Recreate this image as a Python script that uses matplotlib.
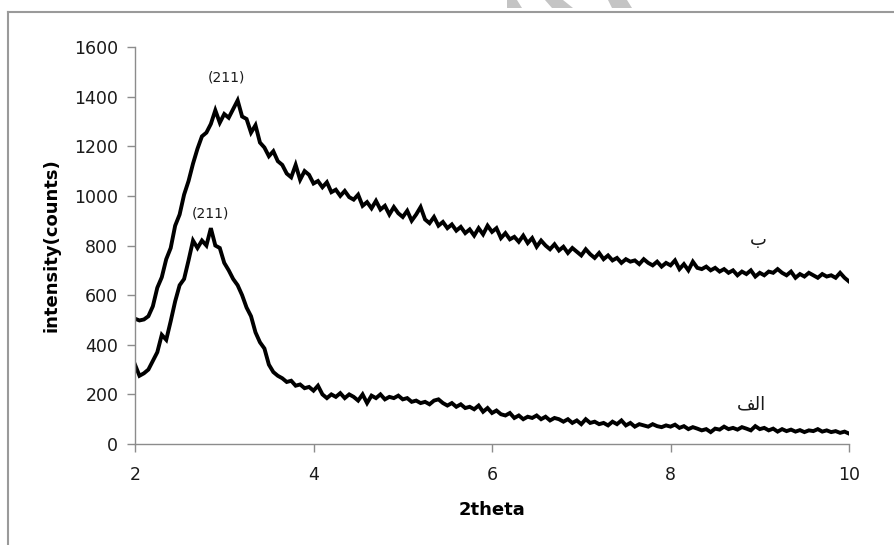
import numpy as np
import matplotlib
matplotlib.use("Agg")
import matplotlib.pyplot as plt
from matplotlib.patches import Polygon

# intensity readings, sampled every 0.05 deg from 2 to 10 (2theta)
curve_b = [505, 498, 502, 515, 555, 630, 672, 745, 790, 880,
           925, 1005, 1060, 1130, 1190, 1240, 1255, 1290, 1345, 1295,
           1330, 1315, 1350, 1385, 1320, 1310, 1255, 1285, 1215, 1195,
           1160, 1180, 1140, 1125, 1090, 1075, 1125, 1065, 1100, 1085,
           1050, 1060, 1035, 1055, 1015, 1025, 1000, 1020, 995, 985,
           1005, 960, 975, 950, 980, 945, 960, 925, 955, 930,
           915, 940, 900, 925, 955, 905, 890, 915, 880, 895,
           870, 885, 860, 875, 850, 865, 840, 870, 845, 880,
           855, 870, 830, 850, 825, 835, 815, 840, 810, 830,
           795, 820, 800, 785, 805, 780, 795, 770, 790, 775,
           760, 785, 765, 750, 770, 745, 760, 740, 750, 730,
           745, 735, 740, 725, 745, 730, 720, 735, 715, 730,
           720, 740, 705, 725, 700, 735, 710, 705, 715, 700,
           710, 695, 705, 690, 700, 680, 695, 685, 700, 675,
           690, 680, 695, 690, 705, 690, 680, 695, 670, 685,
           675, 690, 680, 670, 685, 675, 680, 670, 690, 670,
           655]

curve_a = [320, 275, 285, 300, 335, 370, 440, 420, 495, 575,
           640, 665, 740, 820, 790, 820, 800, 870, 800, 790,
           730, 700, 665, 640, 600, 550, 515, 450, 410, 385,
           320, 290, 275, 265, 250, 255, 235, 240, 225, 230,
           215, 235, 200, 185, 200, 190, 205, 185, 200, 190,
           175, 200, 165, 195, 185, 200, 180, 190, 185, 195,
           180, 185, 170, 175, 165, 170, 160, 175, 180, 165,
           155, 165, 150, 160, 145, 150, 140, 155, 130, 145,
           125, 135, 120, 115, 125, 105, 115, 100, 110, 105,
           115, 100, 110, 95, 105, 100, 90, 100, 85, 95,
           80, 100, 85, 90, 80, 85, 75, 90, 80, 95,
           75, 85, 70, 80, 75, 70, 80, 72, 68, 75,
           70, 78, 65, 72, 60, 68, 62, 55, 60, 48,
           62, 58, 70, 60, 65, 58, 68, 62, 55, 72,
           60, 65, 55, 62, 50, 60, 52, 58, 50, 56,
           48, 55, 52, 60, 50, 55, 48, 52, 45, 50,
           42]

x_start, x_end = 2, 10
y_ticks = [0, 200, 400, 600, 800, 1000, 1200, 1400, 1600]
x_ticks = [2, 4, 6, 8, 10]

peak_label = "(211)"
label_b = "\u0628"
label_a = "\uFED2\uFEDF\uFE8D"  # "الف" in shaped (visual order) form

plt.rcParams["font.family"] = ["DejaVu Sans"]

fig = plt.figure(figsize=(8.94, 5.45), dpi=100)
ax = fig.add_axes([0.151, 0.1853, 0.7987, 0.7284])

xb = np.linspace(x_start, x_end, len(curve_b))
xa = np.linspace(x_start, x_end, len(curve_a))
ax.plot(xb, curve_b, color="black", lw=2.8, solid_joinstyle="miter")
ax.plot(xa, curve_a, color="black", lw=2.8, solid_joinstyle="miter")

ax.set_xlim(x_start, x_end)
ax.set_ylim(0, 1600)
ax.set_xticks(x_ticks)
ax.set_yticks(y_ticks)

for side in ["top", "right"]:
    ax.spines[side].set_visible(False)
for side in ["left", "bottom"]:
    ax.spines[side].set_color("#8c8c8c")
    ax.spines[side].set_linewidth(1.0)
ax.tick_params(direction="out", length=6, width=1.0, color="#8c8c8c",
               labelsize=12.5, labelcolor="#1a1a1a", pad=6)
ax.tick_params(axis="x", pad=10)

ax.set_xlabel("2theta", fontsize=13, fontweight="bold", labelpad=12)
ax.set_ylabel("intensity(counts)", fontsize=13, fontweight="bold", labelpad=10)

ax.text(3.02, 1476, peak_label, fontsize=10, color="#1a1a1a", ha="center", va="center")
ax.text(2.84, 931, peak_label, fontsize=10, color="#1a1a1a", ha="center", va="center")
ax.text(8.98, 823, label_b, fontsize=13, color="#1a1a1a", ha="center", va="center")
ax.text(8.91, 160, label_a, fontsize=13, color="#1a1a1a", ha="center", va="center")

# page frame
W, H = 894, 545
fig.add_artist(plt.Line2D([8 / W, 1.0], [1 - 12 / H, 1 - 12 / H],
                          transform=fig.transFigure, color="#9a9a9a", lw=1.5))
fig.add_artist(plt.Line2D([8 / W, 8 / W], [0, 1 - 12 / H],
                          transform=fig.transFigure, color="#9a9a9a", lw=1.5))

# faint watermark strokes at the top edge
marks = [
    [(507, 0), (517, 0), (522, 8), (507, 8)],
    [(545, 0), (563, 0), (573, 8), (552, 8)],
    [(608, 0), (627, 0), (632, 8), (612, 8)],
]
for m in marks:
    pts = [(px / W, 1 - py / H) for px, py in m]
    fig.add_artist(Polygon(pts, closed=True, transform=fig.transFigure,
                           facecolor="#c4c4c4", edgecolor="none"))

fig.savefig("out.png", dpi=100)
